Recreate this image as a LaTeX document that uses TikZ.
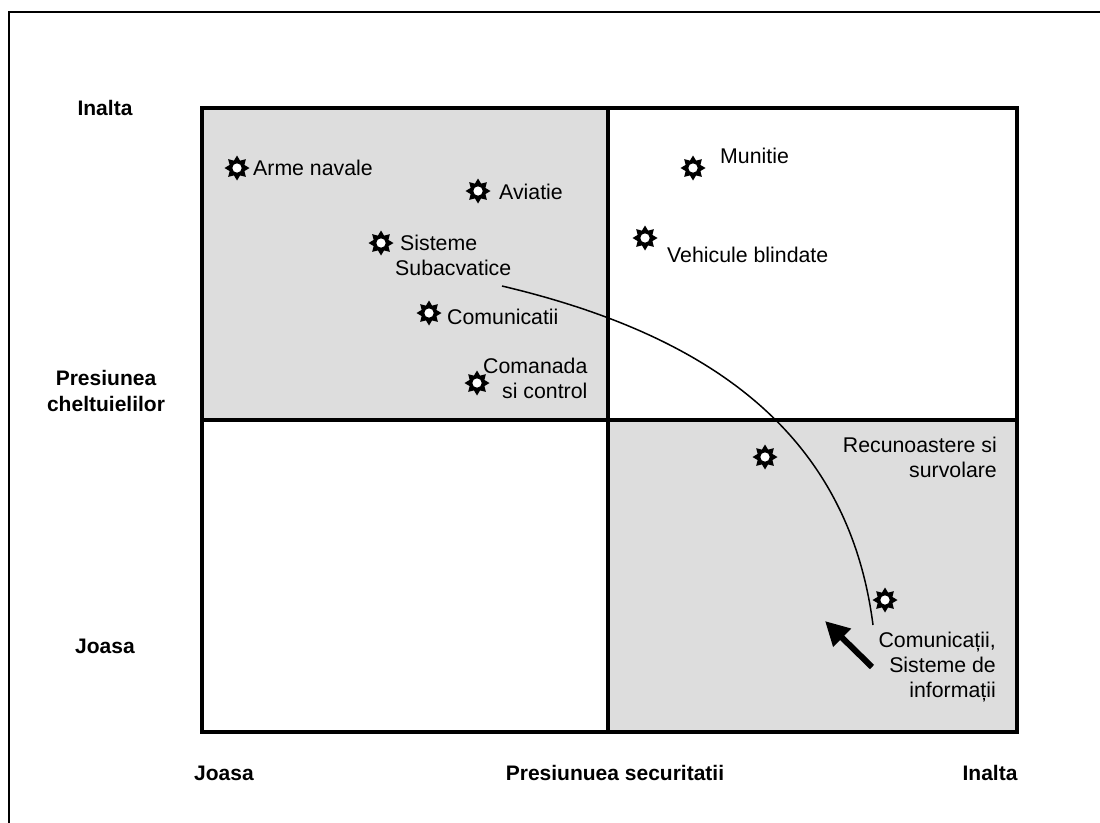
\documentclass[tikz,border=0pt]{standalone}
\usepackage{fontspec}
\setmainfont{Liberation Sans}
\usetikzlibrary{arrows.meta}
\definecolor{quadgray}{RGB}{221,221,221}
\begin{document}
\begin{tikzpicture}[x=1pt,y=-1pt,
  lbl/.style={font=\fontsize{21.3}{25}\selectfont, inner sep=0pt},
  axislbl/.style={font=\fontsize{21}{26}\selectfont\bfseries, inner sep=0pt, align=center},
  gridline/.style={line width=3.5pt},
  sunstar/.pic={
    \fill[black] (0:12.5pt) \foreach \a in {0,45,...,315} { -- (\a:12.5pt) -- (\a+22.5:8pt) } -- cycle;
    \fill[white] (0pt,0pt) circle (4.6pt);
  }]
\useasboundingbox (0,0) rectangle (1100,822);
% outer frame (cropped)
\draw[line width=2pt] (9,830) -- (9,12) -- (1110,12);
% quadrants
\fill[quadgray] (202,108) rectangle (608,420);
\fill[quadgray] (608,420) rectangle (1017,732);
\draw[gridline] (202,108) rectangle (1017,732);
\draw[gridline] (608,108) -- (608,732);
\draw[gridline] (202,420) -- (1017,420);
% curve
\coordinate (cstart) at (502,286);
\coordinate (cend) at (873,625);
\draw[line width=1.5pt] (cstart) .. controls (705,334) and (848,430) .. (cend);
% stars
\pic at (237,168) {sunstar};
\pic at (478,191) {sunstar};
\pic at (381,243) {sunstar};
\pic at (429,313) {sunstar};
\pic at (477,383) {sunstar};
\pic at (693,168) {sunstar};
\pic at (645,238) {sunstar};
\pic at (765,457) {sunstar};
\pic at (885,600) {sunstar};
% item labels
\node[lbl, anchor=west] (arme) at (253,168) {Arme navale};
\node[lbl, anchor=west] (aviatie) at (499,192) {Aviatie};
\node[lbl, anchor=west, align=left] (sisteme) at (395,255) {\hspace*{5pt}Sisteme\\Subacvatice};
\node[lbl, anchor=west] (comunic) at (447,317) {Comunicatii};
\node[lbl, anchor=west, align=left] (comanda) at (483,378) {Comanada\\\hspace*{19pt}si control};
\node[lbl, anchor=west] (munitie) at (720,156) {Munitie};
\node[lbl, anchor=west] (vehicule) at (667,255) {Vehicule blindate};
\node[lbl, anchor=east, align=right] (recun) at (997,457) {Recunoastere si\\survolare};
\node[lbl, anchor=east, align=right] (comsis) at (996,667) {Comunicații,\\Sisteme de\\informații};
% axis labels
\node[axislbl] (yhigh) at (105,108) {Inalta};
\node[axislbl] (ytitle) at (106,391) {Presiunea\\cheltuielilor};
\node[axislbl] (ylow) at (105,646) {Joasa};
\node[axislbl] (xlow) at (224,773) {Joasa};
\node[axislbl] (xtitle) at (615,773) {Presiunuea securitatii};
\node[axislbl] (xhigh) at (990,773) {Inalta};
% thick arrow
\coordinate (atail) at (872,667);
\coordinate (ahead) at (825,621);
\draw[line width=6pt, -{Triangle[length=24pt,width=24pt]}] (atail) -- (ahead);
\end{tikzpicture}
\end{document}
